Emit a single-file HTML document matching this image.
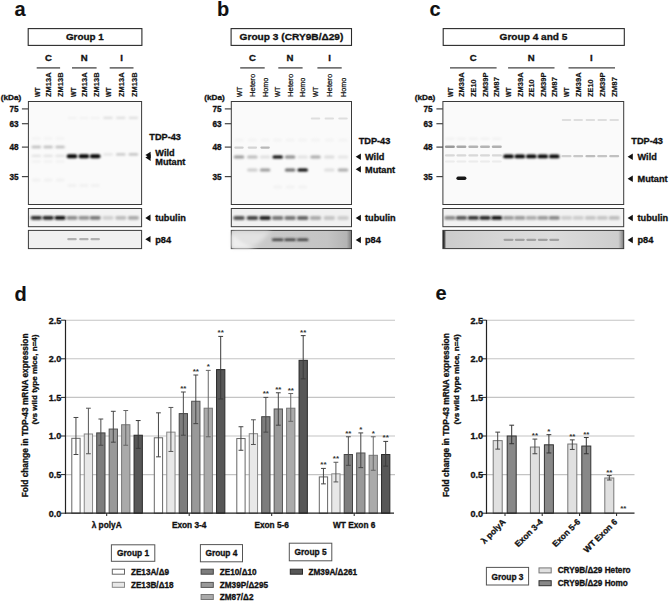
<!DOCTYPE html>
<html><head><meta charset="utf-8"><style>
html,body{margin:0;padding:0;background:#fff;}
svg{display:block;font-family:"Liberation Sans", sans-serif;}
text{stroke:#111;stroke-width:0.32px;}
</style></head><body>
<svg width="669" height="601" viewBox="0 0 669 601">
<defs><filter id="b1" x="-50%" y="-100%" width="200%" height="300%"><feGaussianBlur stdDeviation="0.1"/></filter><filter id="b2" x="-50%" y="-100%" width="200%" height="300%"><feGaussianBlur stdDeviation="0.2"/></filter><filter id="b3" x="-50%" y="-100%" width="200%" height="300%"><feGaussianBlur stdDeviation="0.3"/></filter><filter id="b4" x="-50%" y="-100%" width="200%" height="300%"><feGaussianBlur stdDeviation="0.4"/></filter><filter id="b5" x="-50%" y="-100%" width="200%" height="300%"><feGaussianBlur stdDeviation="0.5"/></filter><filter id="b6" x="-50%" y="-100%" width="200%" height="300%"><feGaussianBlur stdDeviation="0.6"/></filter><filter id="b7" x="-50%" y="-100%" width="200%" height="300%"><feGaussianBlur stdDeviation="0.7"/></filter><filter id="b8" x="-50%" y="-100%" width="200%" height="300%"><feGaussianBlur stdDeviation="0.8"/></filter><filter id="b9" x="-50%" y="-100%" width="200%" height="300%"><feGaussianBlur stdDeviation="0.9"/></filter><filter id="b10" x="-50%" y="-100%" width="200%" height="300%"><feGaussianBlur stdDeviation="1.0"/></filter><filter id="b11" x="-50%" y="-100%" width="200%" height="300%"><feGaussianBlur stdDeviation="1.1"/></filter><filter id="b12" x="-50%" y="-100%" width="200%" height="300%"><feGaussianBlur stdDeviation="1.2"/></filter><filter id="b13" x="-50%" y="-100%" width="200%" height="300%"><feGaussianBlur stdDeviation="1.3"/></filter><filter id="b14" x="-50%" y="-100%" width="200%" height="300%"><feGaussianBlur stdDeviation="1.4"/></filter><filter id="b15" x="-50%" y="-100%" width="200%" height="300%"><feGaussianBlur stdDeviation="1.5"/></filter><filter id="b16" x="-50%" y="-100%" width="200%" height="300%"><feGaussianBlur stdDeviation="1.6"/></filter><filter id="b17" x="-50%" y="-100%" width="200%" height="300%"><feGaussianBlur stdDeviation="1.7"/></filter><filter id="b18" x="-50%" y="-100%" width="200%" height="300%"><feGaussianBlur stdDeviation="1.8"/></filter><filter id="b19" x="-50%" y="-100%" width="200%" height="300%"><feGaussianBlur stdDeviation="1.9"/></filter><filter id="b20" x="-50%" y="-100%" width="200%" height="300%"><feGaussianBlur stdDeviation="2.0"/></filter></defs>
<rect width="669" height="601" fill="#fff"/>
<text x="14.50" y="15.60" font-size="20" font-weight="bold" text-anchor="start" fill="#111" style="stroke-width:0.1px">a</text>
<text x="217.00" y="16.00" font-size="20" font-weight="bold" text-anchor="start" fill="#111" style="stroke-width:0.1px">b</text>
<text x="429.60" y="15.50" font-size="20" font-weight="bold" text-anchor="start" fill="#111" style="stroke-width:0.1px">c</text>
<text x="14.50" y="300.50" font-size="20" font-weight="bold" text-anchor="start" fill="#111" style="stroke-width:0.1px">d</text>
<text x="435.50" y="300.20" font-size="20" font-weight="bold" text-anchor="start" fill="#111" style="stroke-width:0.1px">e</text>
<rect x="28.20" y="28.60" width="113.70" height="16.80" fill="#fff" stroke="#2a2a2a" stroke-width="1.1" />
<text x="84.80" y="40.20" font-size="9.8" font-weight="bold" text-anchor="middle" fill="#111" textLength="37.8" lengthAdjust="spacingAndGlyphs" >Group 1</text>
<text x="48.40" y="61.20" font-size="9.6" font-weight="bold" text-anchor="middle" fill="#111" >C</text>
<line x1="36.70" y1="67.90" x2="60.10" y2="67.90" stroke="#444" stroke-width="1.3" />
<text x="84.10" y="61.20" font-size="9.6" font-weight="bold" text-anchor="middle" fill="#111" >N</text>
<line x1="72.00" y1="67.90" x2="96.60" y2="67.90" stroke="#444" stroke-width="1.3" />
<text x="121.50" y="61.20" font-size="9.6" font-weight="bold" text-anchor="middle" fill="#111" >I</text>
<line x1="109.70" y1="67.90" x2="133.50" y2="67.90" stroke="#444" stroke-width="1.3" />
<text transform="translate(39.50,97.00) rotate(-90)" font-size="7.9" font-weight="bold" fill="#111" text-anchor="start" textLength="9.5" lengthAdjust="spacingAndGlyphs" style="stroke-width:0.2px">WT</text>
<text transform="translate(51.30,97.00) rotate(-90)" font-size="7.9" font-weight="bold" fill="#111" text-anchor="start" textLength="24.6" lengthAdjust="spacingAndGlyphs" style="stroke-width:0.2px">ZM13A</text>
<text transform="translate(63.00,97.00) rotate(-90)" font-size="7.9" font-weight="bold" fill="#111" text-anchor="start" textLength="24.6" lengthAdjust="spacingAndGlyphs" style="stroke-width:0.2px">ZM13B</text>
<text transform="translate(75.50,97.00) rotate(-90)" font-size="7.9" font-weight="bold" fill="#111" text-anchor="start" textLength="9.5" lengthAdjust="spacingAndGlyphs" style="stroke-width:0.2px">WT</text>
<text transform="translate(87.00,97.00) rotate(-90)" font-size="7.9" font-weight="bold" fill="#111" text-anchor="start" textLength="24.6" lengthAdjust="spacingAndGlyphs" style="stroke-width:0.2px">ZM13A</text>
<text transform="translate(98.70,97.00) rotate(-90)" font-size="7.9" font-weight="bold" fill="#111" text-anchor="start" textLength="24.6" lengthAdjust="spacingAndGlyphs" style="stroke-width:0.2px">ZM13B</text>
<text transform="translate(111.20,97.00) rotate(-90)" font-size="7.9" font-weight="bold" fill="#111" text-anchor="start" textLength="9.5" lengthAdjust="spacingAndGlyphs" style="stroke-width:0.2px">WT</text>
<text transform="translate(124.00,97.00) rotate(-90)" font-size="7.9" font-weight="bold" fill="#111" text-anchor="start" textLength="24.6" lengthAdjust="spacingAndGlyphs" style="stroke-width:0.2px">ZM13A</text>
<text transform="translate(136.70,97.00) rotate(-90)" font-size="7.9" font-weight="bold" fill="#111" text-anchor="start" textLength="24.6" lengthAdjust="spacingAndGlyphs" style="stroke-width:0.2px">ZM13B</text>
<rect x="28.40" y="101.50" width="113.20" height="103.00" fill="#fafafa" stroke="#3a3a3a" stroke-width="1.0" />
<rect x="28.40" y="208.50" width="113.20" height="18.20" fill="#f3f3f3" stroke="#3a3a3a" stroke-width="1.0" />
<rect x="28.40" y="230.40" width="113.20" height="18.20" fill="#f0f0f0" stroke="#3a3a3a" stroke-width="1.0" />
<text x="0.80" y="100.20" font-size="7.9" font-weight="bold" text-anchor="start" fill="#111" textLength="20.5" lengthAdjust="spacingAndGlyphs" >(kDa)</text>
<text x="18.60" y="111.80" font-size="8.2" font-weight="bold" text-anchor="end" fill="#111" >75</text>
<line x1="21.90" y1="108.90" x2="28.40" y2="108.90" stroke="#444" stroke-width="1.2" />
<text x="18.60" y="126.60" font-size="8.2" font-weight="bold" text-anchor="end" fill="#111" >63</text>
<line x1="21.90" y1="123.70" x2="28.40" y2="123.70" stroke="#444" stroke-width="1.2" />
<text x="18.60" y="150.00" font-size="8.2" font-weight="bold" text-anchor="end" fill="#111" >48</text>
<line x1="21.90" y1="147.10" x2="28.40" y2="147.10" stroke="#444" stroke-width="1.2" />
<text x="18.60" y="179.50" font-size="8.2" font-weight="bold" text-anchor="end" fill="#111" >35</text>
<line x1="21.90" y1="176.60" x2="28.40" y2="176.60" stroke="#444" stroke-width="1.2" />
<rect x="31.55" y="145.70" width="9.5" height="2.6" rx="1.30" fill="#bdbdbd" filter="url(#b8)"/>
<rect x="31.55" y="154.80" width="9.5" height="2.2" rx="1.10" fill="#e2e2e2" filter="url(#b8)"/>
<rect x="31.80" y="137.50" width="9" height="2" rx="1.00" fill="#f1f1f1" filter="url(#b8)"/>
<rect x="31.80" y="160.50" width="9" height="2" rx="1.00" fill="#efefef" filter="url(#b8)"/>
<rect x="31.80" y="178.50" width="9" height="3" rx="1.50" fill="#f1f1f1" filter="url(#b10)"/>
<rect x="43.35" y="145.70" width="9.5" height="2.6" rx="1.30" fill="#bdbdbd" filter="url(#b8)"/>
<rect x="43.35" y="154.80" width="9.5" height="2.2" rx="1.10" fill="#e2e2e2" filter="url(#b8)"/>
<rect x="43.60" y="137.50" width="9" height="2" rx="1.00" fill="#f1f1f1" filter="url(#b8)"/>
<rect x="43.60" y="160.50" width="9" height="2" rx="1.00" fill="#efefef" filter="url(#b8)"/>
<rect x="43.60" y="178.50" width="9" height="3" rx="1.50" fill="#f1f1f1" filter="url(#b10)"/>
<rect x="55.35" y="145.70" width="9.5" height="2.6" rx="1.30" fill="#bdbdbd" filter="url(#b8)"/>
<rect x="55.35" y="154.80" width="9.5" height="2.2" rx="1.10" fill="#e2e2e2" filter="url(#b8)"/>
<rect x="55.60" y="137.50" width="9" height="2" rx="1.00" fill="#f1f1f1" filter="url(#b8)"/>
<rect x="55.60" y="160.50" width="9" height="2" rx="1.00" fill="#efefef" filter="url(#b8)"/>
<rect x="55.60" y="178.50" width="9" height="3" rx="1.50" fill="#f1f1f1" filter="url(#b10)"/>
<rect x="66.70" y="154.20" width="10.6" height="4.0" rx="2.00" fill="#000" filter="url(#b8)"/>
<rect x="67.50" y="117.10" width="9" height="1.8" rx="0.90" fill="#f1f1f1" filter="url(#b8)"/>
<rect x="67.50" y="184.00" width="9" height="3" rx="1.50" fill="#f1f1f1" filter="url(#b10)"/>
<rect x="78.60" y="154.20" width="10.6" height="4.0" rx="2.00" fill="#000" filter="url(#b8)"/>
<rect x="79.40" y="117.10" width="9" height="1.8" rx="0.90" fill="#f1f1f1" filter="url(#b8)"/>
<rect x="79.40" y="184.00" width="9" height="3" rx="1.50" fill="#f1f1f1" filter="url(#b10)"/>
<rect x="89.90" y="154.20" width="10.6" height="4.0" rx="2.00" fill="#000" filter="url(#b8)"/>
<rect x="90.70" y="117.10" width="9" height="1.8" rx="0.90" fill="#f1f1f1" filter="url(#b8)"/>
<rect x="90.70" y="184.00" width="9" height="3" rx="1.50" fill="#f1f1f1" filter="url(#b10)"/>
<rect x="103.25" y="116.70" width="9.5" height="2.2" rx="1.10" fill="#dedede" filter="url(#b8)"/>
<rect x="103.25" y="153.20" width="9.5" height="2.4" rx="1.20" fill="#e4e4e4" filter="url(#b8)"/>
<rect x="116.05" y="116.70" width="9.5" height="2.2" rx="1.10" fill="#dedede" filter="url(#b8)"/>
<rect x="116.05" y="153.20" width="9.5" height="2.4" rx="1.20" fill="#c4c4c4" filter="url(#b8)"/>
<rect x="128.65" y="116.70" width="9.5" height="2.2" rx="1.10" fill="#dedede" filter="url(#b8)"/>
<rect x="128.65" y="153.20" width="9.5" height="2.4" rx="1.20" fill="#bcbcbc" filter="url(#b8)"/>
<rect x="30.70" y="215.90" width="11.2" height="3.8" rx="1.90" fill="#2a2a2a" filter="url(#b8)"/>
<rect x="42.50" y="215.90" width="11.2" height="3.8" rx="1.90" fill="#222" filter="url(#b8)"/>
<rect x="54.50" y="215.90" width="11.2" height="3.8" rx="1.90" fill="#111" filter="url(#b8)"/>
<rect x="66.40" y="215.90" width="11.2" height="3.8" rx="1.90" fill="#8a8a8a" filter="url(#b8)"/>
<rect x="78.30" y="215.90" width="11.2" height="3.8" rx="1.90" fill="#909090" filter="url(#b8)"/>
<rect x="89.60" y="215.90" width="11.2" height="3.8" rx="1.90" fill="#777" filter="url(#b8)"/>
<rect x="102.40" y="215.90" width="11.2" height="3.8" rx="1.90" fill="#cfcfcf" filter="url(#b8)"/>
<rect x="115.20" y="215.90" width="11.2" height="3.8" rx="1.90" fill="#bbbbbb" filter="url(#b8)"/>
<rect x="127.80" y="215.90" width="11.2" height="3.8" rx="1.90" fill="#a8a8a8" filter="url(#b8)"/>
<rect x="67.25" y="238.10" width="9.5" height="2.2" rx="1.10" fill="#b0b0b0" filter="url(#b7)"/>
<rect x="79.15" y="238.10" width="9.5" height="2.2" rx="1.10" fill="#b0b0b0" filter="url(#b7)"/>
<rect x="90.45" y="238.10" width="9.5" height="2.2" rx="1.10" fill="#b0b0b0" filter="url(#b7)"/>
<text x="149.30" y="139.50" font-size="9.2" font-weight="bold" text-anchor="start" fill="#111" >TDP-43</text>
<polygon points="145.40,155.00 150.60,151.70 150.60,158.30" fill="#111"/>
<polygon points="145.40,157.60 150.60,154.30 150.60,160.90" fill="#111"/>
<text x="155.30" y="155.90" font-size="9.2" font-weight="bold" text-anchor="start" fill="#111" >Wild</text>
<text x="155.30" y="164.90" font-size="9.2" font-weight="bold" text-anchor="start" fill="#111" >Mutant</text>
<polygon points="145.30,217.90 150.50,214.60 150.50,221.20" fill="#111"/>
<text x="155.20" y="221.20" font-size="9.2" font-weight="bold" text-anchor="start" fill="#111" >tubulin</text>
<polygon points="145.30,239.30 150.50,236.00 150.50,242.60" fill="#111"/>
<text x="155.20" y="242.60" font-size="9.2" font-weight="bold" text-anchor="start" fill="#111" >p84</text>
<rect x="231.10" y="28.60" width="120.40" height="16.80" fill="#fff" stroke="#2a2a2a" stroke-width="1.1" />
<text x="291.50" y="40.20" font-size="9.8" font-weight="bold" text-anchor="middle" fill="#111" textLength="103.8" lengthAdjust="spacingAndGlyphs" >Group 3 (CRY9B/&#916;29)</text>
<text x="252.50" y="61.20" font-size="9.6" font-weight="bold" text-anchor="middle" fill="#111" >C</text>
<line x1="240.20" y1="67.90" x2="264.70" y2="67.90" stroke="#444" stroke-width="1.3" />
<text x="289.90" y="61.20" font-size="9.6" font-weight="bold" text-anchor="middle" fill="#111" >N</text>
<line x1="278.30" y1="67.90" x2="302.60" y2="67.90" stroke="#444" stroke-width="1.3" />
<text x="329.70" y="61.20" font-size="9.6" font-weight="bold" text-anchor="middle" fill="#111" >I</text>
<line x1="317.40" y1="67.90" x2="341.70" y2="67.90" stroke="#444" stroke-width="1.3" />
<text transform="translate(241.60,97.00) rotate(-90)" font-size="7.5" font-weight="normal" fill="#111" text-anchor="start" textLength="10.2" lengthAdjust="spacingAndGlyphs" style="stroke-width:0.25px">WT</text>
<text transform="translate(255.00,97.00) rotate(-90)" font-size="7.5" font-weight="normal" fill="#111" text-anchor="start" textLength="23.2" lengthAdjust="spacingAndGlyphs" style="stroke-width:0.25px">Hetero</text>
<text transform="translate(267.70,97.00) rotate(-90)" font-size="7.5" font-weight="normal" fill="#111" text-anchor="start" textLength="19.4" lengthAdjust="spacingAndGlyphs" style="stroke-width:0.25px">Homo</text>
<text transform="translate(280.30,97.00) rotate(-90)" font-size="7.5" font-weight="normal" fill="#111" text-anchor="start" textLength="10.2" lengthAdjust="spacingAndGlyphs" style="stroke-width:0.25px">WT</text>
<text transform="translate(292.70,97.00) rotate(-90)" font-size="7.5" font-weight="normal" fill="#111" text-anchor="start" textLength="23.2" lengthAdjust="spacingAndGlyphs" style="stroke-width:0.25px">Hetero</text>
<text transform="translate(305.30,97.00) rotate(-90)" font-size="7.5" font-weight="normal" fill="#111" text-anchor="start" textLength="19.4" lengthAdjust="spacingAndGlyphs" style="stroke-width:0.25px">Homo</text>
<text transform="translate(318.10,97.00) rotate(-90)" font-size="7.5" font-weight="normal" fill="#111" text-anchor="start" textLength="10.2" lengthAdjust="spacingAndGlyphs" style="stroke-width:0.25px">WT</text>
<text transform="translate(331.90,97.00) rotate(-90)" font-size="7.5" font-weight="normal" fill="#111" text-anchor="start" textLength="23.2" lengthAdjust="spacingAndGlyphs" style="stroke-width:0.25px">Hetero</text>
<text transform="translate(345.60,97.00) rotate(-90)" font-size="7.5" font-weight="normal" fill="#111" text-anchor="start" textLength="19.4" lengthAdjust="spacingAndGlyphs" style="stroke-width:0.25px">Homo</text>
<defs><linearGradient id="gb" x1="0" y1="0" x2="1" y2="0"><stop offset="0" stop-color="#d0d0d0"/><stop offset="0.35" stop-color="#c8c8c8"/><stop offset="0.8" stop-color="#c4c4c4"/><stop offset="0.96" stop-color="#b4b4b4"/><stop offset="0.99" stop-color="#8a8a8a"/><stop offset="1" stop-color="#666"/></linearGradient><linearGradient id="gc" x1="0" y1="0" x2="1" y2="0"><stop offset="0" stop-color="#111"/><stop offset="0.008" stop-color="#444"/><stop offset="0.018" stop-color="#cccccc"/><stop offset="0.3" stop-color="#d6d6d6"/><stop offset="0.6" stop-color="#dcdcdc"/><stop offset="0.97" stop-color="#cdcdcd"/><stop offset="0.99" stop-color="#9a9a9a"/><stop offset="1" stop-color="#777"/></linearGradient></defs>
<rect x="231.30" y="101.50" width="120.20" height="103.00" fill="#fafafa" stroke="#3a3a3a" stroke-width="1.0" />
<rect x="231.30" y="208.50" width="120.20" height="18.20" fill="#f1f1f1" stroke="#3a3a3a" stroke-width="1.0" />
<rect x="231.30" y="230.40" width="120.20" height="18.20" fill="url(#gb)" stroke="#3a3a3a" stroke-width="1.0" />
<path d="M232.3,231.5 L271,231.5 C264,239 257,245 249,247.8 L232.3,247.8 Z" fill="#e2e2e2" filter="url(#b20)"/>
<path d="M232.3,234 C243.3,246 253.3,247.5 261.3,247.8 L232.3,247.8 Z" fill="#eeeeee" filter="url(#b15)"/>
<text x="204.30" y="100.20" font-size="7.9" font-weight="bold" text-anchor="start" fill="#111" textLength="20.5" lengthAdjust="spacingAndGlyphs" >(kDa)</text>
<text x="221.60" y="111.80" font-size="8.2" font-weight="bold" text-anchor="end" fill="#111" >75</text>
<line x1="224.80" y1="108.90" x2="231.30" y2="108.90" stroke="#444" stroke-width="1.2" />
<text x="221.60" y="126.60" font-size="8.2" font-weight="bold" text-anchor="end" fill="#111" >63</text>
<line x1="224.80" y1="123.70" x2="231.30" y2="123.70" stroke="#444" stroke-width="1.2" />
<text x="221.60" y="150.00" font-size="8.2" font-weight="bold" text-anchor="end" fill="#111" >48</text>
<line x1="224.80" y1="147.10" x2="231.30" y2="147.10" stroke="#444" stroke-width="1.2" />
<text x="221.60" y="179.50" font-size="8.2" font-weight="bold" text-anchor="end" fill="#111" >35</text>
<line x1="224.80" y1="176.60" x2="231.30" y2="176.60" stroke="#444" stroke-width="1.2" />
<rect x="233.75" y="155.40" width="10.5" height="3.0" rx="1.50" fill="#9a9a9a" filter="url(#b8)"/>
<rect x="234.50" y="138.50" width="9" height="3" rx="1.50" fill="#f3f3f3" filter="url(#b10)"/>
<rect x="247.15" y="155.40" width="10.5" height="3.0" rx="1.50" fill="#bbbbbb" filter="url(#b8)"/>
<rect x="247.15" y="168.50" width="10.5" height="3.0" rx="1.50" fill="#cccccc" filter="url(#b8)"/>
<rect x="247.90" y="138.50" width="9" height="3" rx="1.50" fill="#f3f3f3" filter="url(#b10)"/>
<rect x="259.85" y="155.40" width="10.5" height="3.0" rx="1.50" fill="#e0e0e0" filter="url(#b8)"/>
<rect x="259.85" y="168.50" width="10.5" height="3.0" rx="1.50" fill="#9a9a9a" filter="url(#b8)"/>
<rect x="260.60" y="138.50" width="9" height="3" rx="1.50" fill="#f3f3f3" filter="url(#b10)"/>
<rect x="272.45" y="155.40" width="10.5" height="3.0" rx="1.50" fill="#000" filter="url(#b8)"/>
<rect x="273.20" y="138.50" width="9" height="3" rx="1.50" fill="#f3f3f3" filter="url(#b10)"/>
<rect x="284.85" y="155.40" width="10.5" height="3.0" rx="1.50" fill="#8a8a8a" filter="url(#b8)"/>
<rect x="284.85" y="168.50" width="10.5" height="3.0" rx="1.50" fill="#6a6a6a" filter="url(#b8)"/>
<rect x="285.60" y="138.50" width="9" height="3" rx="1.50" fill="#f3f3f3" filter="url(#b10)"/>
<rect x="297.45" y="155.40" width="10.5" height="3.0" rx="1.50" fill="#e2e2e2" filter="url(#b8)"/>
<rect x="297.45" y="168.50" width="10.5" height="3.0" rx="1.50" fill="#000" filter="url(#b8)"/>
<rect x="298.20" y="138.50" width="9" height="3" rx="1.50" fill="#f3f3f3" filter="url(#b10)"/>
<rect x="310.25" y="155.40" width="10.5" height="3.0" rx="1.50" fill="#aaaaaa" filter="url(#b8)"/>
<rect x="311.00" y="138.50" width="9" height="3" rx="1.50" fill="#f3f3f3" filter="url(#b10)"/>
<rect x="324.05" y="155.40" width="10.5" height="3.0" rx="1.50" fill="#dcdcdc" filter="url(#b8)"/>
<rect x="324.05" y="168.50" width="10.5" height="3.0" rx="1.50" fill="#dedede" filter="url(#b8)"/>
<rect x="324.80" y="138.50" width="9" height="3" rx="1.50" fill="#f3f3f3" filter="url(#b10)"/>
<rect x="337.75" y="155.40" width="10.5" height="3.0" rx="1.50" fill="#e6e6e6" filter="url(#b8)"/>
<rect x="337.75" y="168.50" width="10.5" height="3.0" rx="1.50" fill="#aaaaaa" filter="url(#b8)"/>
<rect x="338.50" y="138.50" width="9" height="3" rx="1.50" fill="#f3f3f3" filter="url(#b10)"/>
<rect x="234.25" y="146.50" width="9.5" height="2.2" rx="1.10" fill="#cfcfcf" filter="url(#b7)"/>
<rect x="247.65" y="146.50" width="9.5" height="2.2" rx="1.10" fill="#d4d4d4" filter="url(#b7)"/>
<rect x="260.35" y="146.50" width="9.5" height="2.2" rx="1.10" fill="#b8b8b8" filter="url(#b7)"/>
<rect x="310.75" y="117.40" width="9.5" height="2.2" rx="1.10" fill="#dedede" filter="url(#b7)"/>
<rect x="324.55" y="117.40" width="9.5" height="2.2" rx="1.10" fill="#dedede" filter="url(#b7)"/>
<rect x="338.25" y="117.40" width="9.5" height="2.2" rx="1.10" fill="#dedede" filter="url(#b7)"/>
<rect x="273.20" y="185.50" width="9" height="3" rx="1.50" fill="#f2f2f2" filter="url(#b10)"/>
<rect x="285.60" y="185.50" width="9" height="3" rx="1.50" fill="#f2f2f2" filter="url(#b10)"/>
<rect x="298.20" y="185.50" width="9" height="3" rx="1.50" fill="#f2f2f2" filter="url(#b10)"/>
<rect x="233.25" y="216.05" width="11.5" height="3.9" rx="1.95" fill="#555" filter="url(#b8)"/>
<rect x="246.65" y="216.05" width="11.5" height="3.9" rx="1.95" fill="#444" filter="url(#b8)"/>
<rect x="259.35" y="216.05" width="11.5" height="3.9" rx="1.95" fill="#222" filter="url(#b8)"/>
<rect x="271.95" y="216.05" width="11.5" height="3.9" rx="1.95" fill="#777" filter="url(#b8)"/>
<rect x="284.35" y="216.05" width="11.5" height="3.9" rx="1.95" fill="#777" filter="url(#b8)"/>
<rect x="296.95" y="216.05" width="11.5" height="3.9" rx="1.95" fill="#666" filter="url(#b8)"/>
<rect x="309.75" y="216.05" width="11.5" height="3.9" rx="1.95" fill="#aaa" filter="url(#b8)"/>
<rect x="323.55" y="216.05" width="11.5" height="3.9" rx="1.95" fill="#c4c4c4" filter="url(#b8)"/>
<rect x="337.25" y="216.05" width="11.5" height="3.9" rx="1.95" fill="#cccccc" filter="url(#b8)"/>
<rect x="271.95" y="238.50" width="11.5" height="2.6" rx="1.30" fill="#3a3a3a" filter="url(#b8)"/>
<rect x="284.35" y="238.50" width="11.5" height="2.6" rx="1.30" fill="#3a3a3a" filter="url(#b8)"/>
<rect x="296.95" y="238.50" width="11.5" height="2.6" rx="1.30" fill="#3a3a3a" filter="url(#b8)"/>
<text x="358.70" y="143.80" font-size="9.2" font-weight="bold" text-anchor="start" fill="#111" >TDP-43</text>
<polygon points="355.70,156.70 360.90,153.40 360.90,160.00" fill="#111"/>
<text x="365.00" y="160.00" font-size="9.2" font-weight="bold" text-anchor="start" fill="#111" >Wild</text>
<polygon points="355.70,169.20 360.90,165.90 360.90,172.50" fill="#111"/>
<text x="365.00" y="172.50" font-size="9.2" font-weight="bold" text-anchor="start" fill="#111" >Mutant</text>
<polygon points="355.70,218.00 360.90,214.70 360.90,221.30" fill="#111"/>
<text x="365.00" y="221.30" font-size="9.2" font-weight="bold" text-anchor="start" fill="#111" >tubulin</text>
<polygon points="355.70,240.00 360.90,236.70 360.90,243.30" fill="#111"/>
<text x="365.00" y="243.30" font-size="9.2" font-weight="bold" text-anchor="start" fill="#111" >p84</text>
<rect x="443.20" y="28.60" width="181.10" height="16.80" fill="#fff" stroke="#2a2a2a" stroke-width="1.1" />
<text x="533.50" y="40.20" font-size="9.8" font-weight="bold" text-anchor="middle" fill="#111" textLength="67.8" lengthAdjust="spacingAndGlyphs" >Group 4 and 5</text>
<text x="473.10" y="61.20" font-size="9.6" font-weight="bold" text-anchor="middle" fill="#111" >C</text>
<line x1="450.00" y1="67.90" x2="496.60" y2="67.90" stroke="#444" stroke-width="1.3" />
<text x="531.20" y="61.20" font-size="9.6" font-weight="bold" text-anchor="middle" fill="#111" >N</text>
<line x1="508.10" y1="67.90" x2="554.50" y2="67.90" stroke="#444" stroke-width="1.3" />
<text x="591.30" y="61.20" font-size="9.6" font-weight="bold" text-anchor="middle" fill="#111" >I</text>
<line x1="568.50" y1="67.90" x2="615.00" y2="67.90" stroke="#444" stroke-width="1.3" />
<text transform="translate(452.90,97.00) rotate(-90)" font-size="7.9" font-weight="bold" fill="#111" text-anchor="start" textLength="9.5" lengthAdjust="spacingAndGlyphs" style="stroke-width:0.2px">WT</text>
<text transform="translate(464.30,97.00) rotate(-90)" font-size="7.9" font-weight="bold" fill="#111" text-anchor="start" textLength="24.6" lengthAdjust="spacingAndGlyphs" style="stroke-width:0.2px">ZM39A</text>
<text transform="translate(476.00,97.00) rotate(-90)" font-size="7.9" font-weight="bold" fill="#111" text-anchor="start" textLength="17.6" lengthAdjust="spacingAndGlyphs" style="stroke-width:0.2px">ZE10</text>
<text transform="translate(487.70,97.00) rotate(-90)" font-size="7.9" font-weight="bold" fill="#111" text-anchor="start" textLength="24.6" lengthAdjust="spacingAndGlyphs" style="stroke-width:0.2px">ZM39P</text>
<text transform="translate(499.40,97.00) rotate(-90)" font-size="7.9" font-weight="bold" fill="#111" text-anchor="start" textLength="20" lengthAdjust="spacingAndGlyphs" style="stroke-width:0.2px">ZM87</text>
<text transform="translate(511.30,97.00) rotate(-90)" font-size="7.9" font-weight="bold" fill="#111" text-anchor="start" textLength="9.5" lengthAdjust="spacingAndGlyphs" style="stroke-width:0.2px">WT</text>
<text transform="translate(522.90,97.00) rotate(-90)" font-size="7.9" font-weight="bold" fill="#111" text-anchor="start" textLength="24.6" lengthAdjust="spacingAndGlyphs" style="stroke-width:0.2px">ZM39A</text>
<text transform="translate(534.20,97.00) rotate(-90)" font-size="7.9" font-weight="bold" fill="#111" text-anchor="start" textLength="17.6" lengthAdjust="spacingAndGlyphs" style="stroke-width:0.2px">ZE10</text>
<text transform="translate(545.70,97.00) rotate(-90)" font-size="7.9" font-weight="bold" fill="#111" text-anchor="start" textLength="24.6" lengthAdjust="spacingAndGlyphs" style="stroke-width:0.2px">ZM39P</text>
<text transform="translate(557.20,97.00) rotate(-90)" font-size="7.9" font-weight="bold" fill="#111" text-anchor="start" textLength="20" lengthAdjust="spacingAndGlyphs" style="stroke-width:0.2px">ZM87</text>
<text transform="translate(569.40,97.00) rotate(-90)" font-size="7.9" font-weight="bold" fill="#111" text-anchor="start" textLength="9.5" lengthAdjust="spacingAndGlyphs" style="stroke-width:0.2px">WT</text>
<text transform="translate(581.10,97.00) rotate(-90)" font-size="7.9" font-weight="bold" fill="#111" text-anchor="start" textLength="24.6" lengthAdjust="spacingAndGlyphs" style="stroke-width:0.2px">ZM39A</text>
<text transform="translate(593.30,97.00) rotate(-90)" font-size="7.9" font-weight="bold" fill="#111" text-anchor="start" textLength="17.6" lengthAdjust="spacingAndGlyphs" style="stroke-width:0.2px">ZE10</text>
<text transform="translate(605.10,97.00) rotate(-90)" font-size="7.9" font-weight="bold" fill="#111" text-anchor="start" textLength="24.6" lengthAdjust="spacingAndGlyphs" style="stroke-width:0.2px">ZM39P</text>
<text transform="translate(617.10,97.00) rotate(-90)" font-size="7.9" font-weight="bold" fill="#111" text-anchor="start" textLength="20" lengthAdjust="spacingAndGlyphs" style="stroke-width:0.2px">ZM87</text>
<rect x="442.90" y="101.50" width="180.80" height="103.00" fill="#fafafa" stroke="#3a3a3a" stroke-width="1.0" />
<rect x="442.90" y="208.50" width="180.80" height="18.20" fill="#f2f2f2" stroke="#3a3a3a" stroke-width="1.0" />
<rect x="442.90" y="230.40" width="180.80" height="18.20" fill="url(#gc)" stroke="#3a3a3a" stroke-width="1.0" />
<text x="414.70" y="100.20" font-size="7.9" font-weight="bold" text-anchor="start" fill="#111" textLength="20.5" lengthAdjust="spacingAndGlyphs" >(kDa)</text>
<text x="432.60" y="111.80" font-size="8.2" font-weight="bold" text-anchor="end" fill="#111" >75</text>
<line x1="436.40" y1="108.90" x2="442.90" y2="108.90" stroke="#444" stroke-width="1.2" />
<text x="432.60" y="126.60" font-size="8.2" font-weight="bold" text-anchor="end" fill="#111" >63</text>
<line x1="436.40" y1="123.70" x2="442.90" y2="123.70" stroke="#444" stroke-width="1.2" />
<text x="432.60" y="150.00" font-size="8.2" font-weight="bold" text-anchor="end" fill="#111" >48</text>
<line x1="436.40" y1="147.10" x2="442.90" y2="147.10" stroke="#444" stroke-width="1.2" />
<text x="432.60" y="179.50" font-size="8.2" font-weight="bold" text-anchor="end" fill="#111" >35</text>
<line x1="436.40" y1="176.60" x2="442.90" y2="176.60" stroke="#444" stroke-width="1.2" />
<rect x="444.90" y="145.50" width="10" height="2.6" rx="1.30" fill="#9a9a9a" filter="url(#b7)"/>
<rect x="444.90" y="154.30" width="10" height="2.2" rx="1.10" fill="#d8d8d8" filter="url(#b7)"/>
<rect x="444.90" y="160.60" width="10" height="2" rx="1.00" fill="#ececec" filter="url(#b7)"/>
<rect x="445.15" y="137.70" width="9.5" height="2" rx="1.00" fill="#f0f0f0" filter="url(#b8)"/>
<rect x="456.40" y="145.50" width="10" height="2.6" rx="1.30" fill="#a8a8a8" filter="url(#b7)"/>
<rect x="456.40" y="154.30" width="10" height="2.2" rx="1.10" fill="#d8d8d8" filter="url(#b7)"/>
<rect x="456.40" y="160.60" width="10" height="2" rx="1.00" fill="#ececec" filter="url(#b7)"/>
<rect x="456.65" y="137.70" width="9.5" height="2" rx="1.00" fill="#f0f0f0" filter="url(#b8)"/>
<rect x="468.30" y="145.50" width="10" height="2.6" rx="1.30" fill="#b4b4b4" filter="url(#b7)"/>
<rect x="468.30" y="154.30" width="10" height="2.2" rx="1.10" fill="#d8d8d8" filter="url(#b7)"/>
<rect x="468.30" y="160.60" width="10" height="2" rx="1.00" fill="#ececec" filter="url(#b7)"/>
<rect x="468.55" y="137.70" width="9.5" height="2" rx="1.00" fill="#f0f0f0" filter="url(#b8)"/>
<rect x="480.00" y="145.50" width="10" height="2.6" rx="1.30" fill="#b4b4b4" filter="url(#b7)"/>
<rect x="480.00" y="154.30" width="10" height="2.2" rx="1.10" fill="#d8d8d8" filter="url(#b7)"/>
<rect x="480.00" y="160.60" width="10" height="2" rx="1.00" fill="#ececec" filter="url(#b7)"/>
<rect x="480.25" y="137.70" width="9.5" height="2" rx="1.00" fill="#f0f0f0" filter="url(#b8)"/>
<rect x="491.80" y="145.50" width="10" height="2.6" rx="1.30" fill="#b0b0b0" filter="url(#b7)"/>
<rect x="491.80" y="154.30" width="10" height="2.2" rx="1.10" fill="#d8d8d8" filter="url(#b7)"/>
<rect x="491.80" y="160.60" width="10" height="2" rx="1.00" fill="#ececec" filter="url(#b7)"/>
<rect x="492.05" y="137.70" width="9.5" height="2" rx="1.00" fill="#f0f0f0" filter="url(#b8)"/>
<rect x="503.20" y="154.45" width="10.6" height="3.9" rx="1.95" fill="#000" filter="url(#b8)"/>
<rect x="514.50" y="154.45" width="10.6" height="3.9" rx="1.95" fill="#000" filter="url(#b8)"/>
<rect x="526.00" y="154.45" width="10.6" height="3.9" rx="1.95" fill="#000" filter="url(#b8)"/>
<rect x="537.50" y="154.45" width="10.6" height="3.9" rx="1.95" fill="#000" filter="url(#b8)"/>
<rect x="549.00" y="154.45" width="10.6" height="3.9" rx="1.95" fill="#000" filter="url(#b8)"/>
<rect x="561.50" y="155.10" width="10" height="2.2" rx="1.10" fill="#cfcfcf" filter="url(#b7)"/>
<rect x="561.75" y="119.00" width="9.5" height="2" rx="1.00" fill="#dedede" filter="url(#b7)"/>
<rect x="573.20" y="155.10" width="10" height="2.2" rx="1.10" fill="#c8c8c8" filter="url(#b7)"/>
<rect x="573.45" y="119.00" width="9.5" height="2" rx="1.00" fill="#dedede" filter="url(#b7)"/>
<rect x="585.40" y="155.10" width="10" height="2.2" rx="1.10" fill="#bdbdbd" filter="url(#b7)"/>
<rect x="585.65" y="119.00" width="9.5" height="2" rx="1.00" fill="#dedede" filter="url(#b7)"/>
<rect x="597.20" y="155.10" width="10" height="2.2" rx="1.10" fill="#c4c4c4" filter="url(#b7)"/>
<rect x="597.45" y="119.00" width="9.5" height="2" rx="1.00" fill="#dedede" filter="url(#b7)"/>
<rect x="609.20" y="155.10" width="10" height="2.2" rx="1.10" fill="#c0c0c0" filter="url(#b7)"/>
<rect x="609.45" y="119.00" width="9.5" height="2" rx="1.00" fill="#dedede" filter="url(#b7)"/>
<rect x="456.40" y="176.50" width="10" height="3.4" rx="1.70" fill="#151515" filter="url(#b7)"/>
<rect x="444.30" y="215.95" width="11.2" height="3.9" rx="1.95" fill="#888" filter="url(#b8)"/>
<rect x="455.80" y="215.95" width="11.2" height="3.9" rx="1.95" fill="#555" filter="url(#b8)"/>
<rect x="467.70" y="215.95" width="11.2" height="3.9" rx="1.95" fill="#333" filter="url(#b8)"/>
<rect x="479.40" y="215.95" width="11.2" height="3.9" rx="1.95" fill="#222" filter="url(#b8)"/>
<rect x="491.20" y="215.95" width="11.2" height="3.9" rx="1.95" fill="#111" filter="url(#b8)"/>
<rect x="502.90" y="215.95" width="11.2" height="3.9" rx="1.95" fill="#999" filter="url(#b8)"/>
<rect x="514.20" y="215.95" width="11.2" height="3.9" rx="1.95" fill="#999" filter="url(#b8)"/>
<rect x="525.70" y="215.95" width="11.2" height="3.9" rx="1.95" fill="#aaa" filter="url(#b8)"/>
<rect x="537.20" y="215.95" width="11.2" height="3.9" rx="1.95" fill="#999" filter="url(#b8)"/>
<rect x="548.70" y="215.95" width="11.2" height="3.9" rx="1.95" fill="#888" filter="url(#b8)"/>
<rect x="560.90" y="215.95" width="11.2" height="3.9" rx="1.95" fill="#ccc" filter="url(#b8)"/>
<rect x="572.60" y="215.95" width="11.2" height="3.9" rx="1.95" fill="#ccc" filter="url(#b8)"/>
<rect x="584.80" y="215.95" width="11.2" height="3.9" rx="1.95" fill="#c4c4c4" filter="url(#b8)"/>
<rect x="596.60" y="215.95" width="11.2" height="3.9" rx="1.95" fill="#c4c4c4" filter="url(#b8)"/>
<rect x="608.60" y="215.95" width="11.2" height="3.9" rx="1.95" fill="#bbb" filter="url(#b8)"/>
<rect x="503.50" y="238.70" width="10" height="2.2" rx="1.10" fill="#a0a0a0" filter="url(#b7)"/>
<rect x="514.80" y="238.70" width="10" height="2.2" rx="1.10" fill="#a0a0a0" filter="url(#b7)"/>
<rect x="526.30" y="238.70" width="10" height="2.2" rx="1.10" fill="#a0a0a0" filter="url(#b7)"/>
<rect x="537.80" y="238.70" width="10" height="2.2" rx="1.10" fill="#a0a0a0" filter="url(#b7)"/>
<rect x="549.30" y="238.70" width="10" height="2.2" rx="1.10" fill="#a0a0a0" filter="url(#b7)"/>
<text x="631.30" y="143.80" font-size="9.2" font-weight="bold" text-anchor="start" fill="#111" >TDP-43</text>
<polygon points="627.60,156.80 632.80,153.50 632.80,160.10" fill="#111"/>
<text x="637.50" y="160.10" font-size="9.2" font-weight="bold" text-anchor="start" fill="#111" >Wild</text>
<polygon points="627.60,178.80 632.80,175.50 632.80,182.10" fill="#111"/>
<text x="637.50" y="182.10" font-size="9.2" font-weight="bold" text-anchor="start" fill="#111" >Mutant</text>
<polygon points="627.60,218.00 632.80,214.70 632.80,221.30" fill="#111"/>
<text x="637.50" y="221.30" font-size="9.2" font-weight="bold" text-anchor="start" fill="#111" >tubulin</text>
<polygon points="627.60,240.00 632.80,236.70 632.80,243.30" fill="#111"/>
<text x="637.50" y="243.30" font-size="9.2" font-weight="bold" text-anchor="start" fill="#111" >p84</text>
<line x1="65.50" y1="474.60" x2="395.00" y2="474.60" stroke="#c4c4c4" stroke-width="1.1" />
<line x1="65.50" y1="436.00" x2="395.00" y2="436.00" stroke="#c4c4c4" stroke-width="1.1" />
<line x1="65.50" y1="397.40" x2="395.00" y2="397.40" stroke="#c4c4c4" stroke-width="1.1" />
<line x1="65.50" y1="358.80" x2="395.00" y2="358.80" stroke="#c4c4c4" stroke-width="1.1" />
<line x1="65.50" y1="320.20" x2="395.00" y2="320.20" stroke="#c4c4c4" stroke-width="1.1" />
<rect x="71.80" y="438.32" width="8.30" height="74.88" fill="#ffffff" stroke="#666" stroke-width="1" />
<line x1="75.95" y1="417.47" x2="75.95" y2="454.53" stroke="#444" stroke-width="1" />
<line x1="73.55" y1="417.47" x2="78.35" y2="417.47" stroke="#444" stroke-width="1" />
<line x1="73.55" y1="454.53" x2="78.35" y2="454.53" stroke="#444" stroke-width="1" />
<rect x="84.25" y="433.99" width="8.30" height="79.21" fill="#e8e8e8" stroke="#888" stroke-width="1" />
<line x1="88.40" y1="408.21" x2="88.40" y2="453.76" stroke="#555" stroke-width="1" />
<line x1="86.00" y1="408.21" x2="90.80" y2="408.21" stroke="#555" stroke-width="1" />
<line x1="86.00" y1="453.76" x2="90.80" y2="453.76" stroke="#555" stroke-width="1" />
<rect x="96.70" y="432.91" width="8.30" height="80.29" fill="#7d7d7d" stroke="#444" stroke-width="1" />
<line x1="100.85" y1="419.02" x2="100.85" y2="445.26" stroke="#4a4a4a" stroke-width="1" />
<line x1="98.45" y1="419.02" x2="103.25" y2="419.02" stroke="#4a4a4a" stroke-width="1" />
<line x1="98.45" y1="445.26" x2="103.25" y2="445.26" stroke="#4a4a4a" stroke-width="1" />
<rect x="109.15" y="429.05" width="8.30" height="84.15" fill="#999999" stroke="#555" stroke-width="1" />
<line x1="113.30" y1="411.30" x2="113.30" y2="442.18" stroke="#444" stroke-width="1" />
<line x1="110.90" y1="411.30" x2="115.70" y2="411.30" stroke="#444" stroke-width="1" />
<line x1="110.90" y1="442.18" x2="115.70" y2="442.18" stroke="#444" stroke-width="1" />
<rect x="121.60" y="424.73" width="8.30" height="88.47" fill="#aaaaaa" stroke="#777" stroke-width="1" />
<line x1="125.75" y1="410.52" x2="125.75" y2="445.26" stroke="#666" stroke-width="1" />
<line x1="123.35" y1="410.52" x2="128.15" y2="410.52" stroke="#666" stroke-width="1" />
<line x1="123.35" y1="445.26" x2="128.15" y2="445.26" stroke="#666" stroke-width="1" />
<rect x="134.05" y="435.23" width="8.30" height="77.97" fill="#575757" stroke="#2a2a2a" stroke-width="1" />
<line x1="138.20" y1="420.56" x2="138.20" y2="448.35" stroke="#3a3a3a" stroke-width="1" />
<line x1="135.80" y1="420.56" x2="140.60" y2="420.56" stroke="#3a3a3a" stroke-width="1" />
<line x1="135.80" y1="448.35" x2="140.60" y2="448.35" stroke="#3a3a3a" stroke-width="1" />
<rect x="154.30" y="437.78" width="8.30" height="75.42" fill="#ffffff" stroke="#666" stroke-width="1" />
<line x1="158.45" y1="412.84" x2="158.45" y2="456.84" stroke="#444" stroke-width="1" />
<line x1="156.05" y1="412.84" x2="160.85" y2="412.84" stroke="#444" stroke-width="1" />
<line x1="156.05" y1="456.84" x2="160.85" y2="456.84" stroke="#444" stroke-width="1" />
<rect x="166.75" y="432.14" width="8.30" height="81.06" fill="#e8e8e8" stroke="#888" stroke-width="1" />
<line x1="170.90" y1="407.44" x2="170.90" y2="451.44" stroke="#555" stroke-width="1" />
<line x1="168.50" y1="407.44" x2="173.30" y2="407.44" stroke="#555" stroke-width="1" />
<line x1="168.50" y1="451.44" x2="173.30" y2="451.44" stroke="#555" stroke-width="1" />
<rect x="179.20" y="413.61" width="8.30" height="99.59" fill="#7d7d7d" stroke="#444" stroke-width="1" />
<line x1="183.35" y1="392.00" x2="183.35" y2="435.23" stroke="#4a4a4a" stroke-width="1" />
<line x1="180.95" y1="392.00" x2="185.75" y2="392.00" stroke="#4a4a4a" stroke-width="1" />
<line x1="180.95" y1="435.23" x2="185.75" y2="435.23" stroke="#4a4a4a" stroke-width="1" />
<text x="183.35" y="391.00" font-size="8" font-weight="bold" text-anchor="middle" fill="#333" style="stroke:none">**</text>
<rect x="191.65" y="401.26" width="8.30" height="111.94" fill="#999999" stroke="#555" stroke-width="1" />
<line x1="195.80" y1="375.01" x2="195.80" y2="423.65" stroke="#444" stroke-width="1" />
<line x1="193.40" y1="375.01" x2="198.20" y2="375.01" stroke="#444" stroke-width="1" />
<line x1="193.40" y1="423.65" x2="198.20" y2="423.65" stroke="#444" stroke-width="1" />
<text x="195.80" y="374.01" font-size="8" font-weight="bold" text-anchor="middle" fill="#333" style="stroke:none">**</text>
<rect x="204.10" y="408.21" width="8.30" height="104.99" fill="#aaaaaa" stroke="#777" stroke-width="1" />
<line x1="208.25" y1="370.38" x2="208.25" y2="436.77" stroke="#666" stroke-width="1" />
<line x1="205.85" y1="370.38" x2="210.65" y2="370.38" stroke="#666" stroke-width="1" />
<line x1="205.85" y1="436.77" x2="210.65" y2="436.77" stroke="#666" stroke-width="1" />
<text x="208.25" y="369.38" font-size="8" font-weight="bold" text-anchor="middle" fill="#333" style="stroke:none">*</text>
<rect x="216.55" y="369.61" width="8.30" height="143.59" fill="#575757" stroke="#2a2a2a" stroke-width="1" />
<line x1="220.70" y1="336.41" x2="220.70" y2="398.94" stroke="#3a3a3a" stroke-width="1" />
<line x1="218.30" y1="336.41" x2="223.10" y2="336.41" stroke="#3a3a3a" stroke-width="1" />
<line x1="218.30" y1="398.94" x2="223.10" y2="398.94" stroke="#3a3a3a" stroke-width="1" />
<text x="220.70" y="335.41" font-size="8" font-weight="bold" text-anchor="middle" fill="#333" style="stroke:none">**</text>
<rect x="236.80" y="438.55" width="8.30" height="74.65" fill="#ffffff" stroke="#666" stroke-width="1" />
<line x1="240.95" y1="426.74" x2="240.95" y2="450.28" stroke="#444" stroke-width="1" />
<line x1="238.55" y1="426.74" x2="243.35" y2="426.74" stroke="#444" stroke-width="1" />
<line x1="238.55" y1="450.28" x2="243.35" y2="450.28" stroke="#444" stroke-width="1" />
<rect x="249.25" y="433.68" width="8.30" height="79.52" fill="#e8e8e8" stroke="#888" stroke-width="1" />
<line x1="253.40" y1="419.79" x2="253.40" y2="444.49" stroke="#555" stroke-width="1" />
<line x1="251.00" y1="419.79" x2="255.80" y2="419.79" stroke="#555" stroke-width="1" />
<line x1="251.00" y1="444.49" x2="255.80" y2="444.49" stroke="#555" stroke-width="1" />
<rect x="261.70" y="416.70" width="8.30" height="96.50" fill="#7d7d7d" stroke="#444" stroke-width="1" />
<line x1="265.85" y1="397.40" x2="265.85" y2="432.14" stroke="#4a4a4a" stroke-width="1" />
<line x1="263.45" y1="397.40" x2="268.25" y2="397.40" stroke="#4a4a4a" stroke-width="1" />
<line x1="263.45" y1="432.14" x2="268.25" y2="432.14" stroke="#4a4a4a" stroke-width="1" />
<text x="265.85" y="396.40" font-size="8" font-weight="bold" text-anchor="middle" fill="#333" style="stroke:none">**</text>
<rect x="274.15" y="408.98" width="8.30" height="104.22" fill="#999999" stroke="#555" stroke-width="1" />
<line x1="278.30" y1="392.77" x2="278.30" y2="425.19" stroke="#444" stroke-width="1" />
<line x1="275.90" y1="392.77" x2="280.70" y2="392.77" stroke="#444" stroke-width="1" />
<line x1="275.90" y1="425.19" x2="280.70" y2="425.19" stroke="#444" stroke-width="1" />
<text x="278.30" y="391.77" font-size="8" font-weight="bold" text-anchor="middle" fill="#333" style="stroke:none">**</text>
<rect x="286.60" y="408.21" width="8.30" height="104.99" fill="#aaaaaa" stroke="#777" stroke-width="1" />
<line x1="290.75" y1="393.54" x2="290.75" y2="421.33" stroke="#666" stroke-width="1" />
<line x1="288.35" y1="393.54" x2="293.15" y2="393.54" stroke="#666" stroke-width="1" />
<line x1="288.35" y1="421.33" x2="293.15" y2="421.33" stroke="#666" stroke-width="1" />
<text x="290.75" y="392.54" font-size="8" font-weight="bold" text-anchor="middle" fill="#333" style="stroke:none">**</text>
<rect x="299.05" y="360.34" width="8.30" height="152.86" fill="#575757" stroke="#2a2a2a" stroke-width="1" />
<line x1="303.20" y1="335.64" x2="303.20" y2="378.87" stroke="#3a3a3a" stroke-width="1" />
<line x1="300.80" y1="335.64" x2="305.60" y2="335.64" stroke="#3a3a3a" stroke-width="1" />
<line x1="300.80" y1="378.87" x2="305.60" y2="378.87" stroke="#3a3a3a" stroke-width="1" />
<text x="303.20" y="334.64" font-size="8" font-weight="bold" text-anchor="middle" fill="#333" style="stroke:none">**</text>
<rect x="319.30" y="476.92" width="8.30" height="36.28" fill="#ffffff" stroke="#666" stroke-width="1" />
<line x1="323.45" y1="468.42" x2="323.45" y2="483.86" stroke="#444" stroke-width="1" />
<line x1="321.05" y1="468.42" x2="325.85" y2="468.42" stroke="#444" stroke-width="1" />
<line x1="321.05" y1="483.86" x2="325.85" y2="483.86" stroke="#444" stroke-width="1" />
<text x="323.45" y="467.42" font-size="8" font-weight="bold" text-anchor="middle" fill="#333" style="stroke:none">**</text>
<rect x="331.75" y="473.83" width="8.30" height="39.37" fill="#e8e8e8" stroke="#888" stroke-width="1" />
<line x1="335.90" y1="462.25" x2="335.90" y2="481.93" stroke="#555" stroke-width="1" />
<line x1="333.50" y1="462.25" x2="338.30" y2="462.25" stroke="#555" stroke-width="1" />
<line x1="333.50" y1="481.93" x2="338.30" y2="481.93" stroke="#555" stroke-width="1" />
<text x="335.90" y="461.25" font-size="8" font-weight="bold" text-anchor="middle" fill="#333" style="stroke:none">**</text>
<rect x="344.20" y="454.53" width="8.30" height="58.67" fill="#7d7d7d" stroke="#444" stroke-width="1" />
<line x1="348.35" y1="436.77" x2="348.35" y2="465.34" stroke="#4a4a4a" stroke-width="1" />
<line x1="345.95" y1="436.77" x2="350.75" y2="436.77" stroke="#4a4a4a" stroke-width="1" />
<line x1="345.95" y1="465.34" x2="350.75" y2="465.34" stroke="#4a4a4a" stroke-width="1" />
<text x="348.35" y="435.77" font-size="8" font-weight="bold" text-anchor="middle" fill="#333" style="stroke:none">**</text>
<rect x="356.65" y="452.98" width="8.30" height="60.22" fill="#999999" stroke="#555" stroke-width="1" />
<line x1="360.80" y1="432.91" x2="360.80" y2="467.65" stroke="#444" stroke-width="1" />
<line x1="358.40" y1="432.91" x2="363.20" y2="432.91" stroke="#444" stroke-width="1" />
<line x1="358.40" y1="467.65" x2="363.20" y2="467.65" stroke="#444" stroke-width="1" />
<text x="360.80" y="431.91" font-size="8" font-weight="bold" text-anchor="middle" fill="#333" style="stroke:none">*</text>
<rect x="369.10" y="455.30" width="8.30" height="57.90" fill="#aaaaaa" stroke="#777" stroke-width="1" />
<line x1="373.25" y1="436.77" x2="373.25" y2="470.28" stroke="#666" stroke-width="1" />
<line x1="370.85" y1="436.77" x2="375.65" y2="436.77" stroke="#666" stroke-width="1" />
<line x1="370.85" y1="470.28" x2="375.65" y2="470.28" stroke="#666" stroke-width="1" />
<text x="373.25" y="435.77" font-size="8" font-weight="bold" text-anchor="middle" fill="#333" style="stroke:none">*</text>
<rect x="381.55" y="454.53" width="8.30" height="58.67" fill="#575757" stroke="#2a2a2a" stroke-width="1" />
<line x1="385.70" y1="441.40" x2="385.70" y2="466.11" stroke="#3a3a3a" stroke-width="1" />
<line x1="383.30" y1="441.40" x2="388.10" y2="441.40" stroke="#3a3a3a" stroke-width="1" />
<line x1="383.30" y1="466.11" x2="388.10" y2="466.11" stroke="#3a3a3a" stroke-width="1" />
<text x="385.70" y="440.40" font-size="8" font-weight="bold" text-anchor="middle" fill="#333" style="stroke:none">**</text>
<line x1="65.50" y1="320.00" x2="65.50" y2="513.80" stroke="#222" stroke-width="1.2" />
<line x1="64.90" y1="513.20" x2="394.00" y2="513.20" stroke="#222" stroke-width="1.2" />
<line x1="61.00" y1="513.20" x2="65.50" y2="513.20" stroke="#222" stroke-width="1" />
<text x="61.20" y="516.50" font-size="9" font-weight="bold" text-anchor="end" fill="#111" >0.0</text>
<line x1="61.00" y1="474.60" x2="65.50" y2="474.60" stroke="#222" stroke-width="1" />
<text x="61.20" y="477.90" font-size="9" font-weight="bold" text-anchor="end" fill="#111" >0.5</text>
<line x1="61.00" y1="436.00" x2="65.50" y2="436.00" stroke="#222" stroke-width="1" />
<text x="61.20" y="439.30" font-size="9" font-weight="bold" text-anchor="end" fill="#111" >1.0</text>
<line x1="61.00" y1="397.40" x2="65.50" y2="397.40" stroke="#222" stroke-width="1" />
<text x="61.20" y="400.70" font-size="9" font-weight="bold" text-anchor="end" fill="#111" >1.5</text>
<line x1="61.00" y1="358.80" x2="65.50" y2="358.80" stroke="#222" stroke-width="1" />
<text x="61.20" y="362.10" font-size="9" font-weight="bold" text-anchor="end" fill="#111" >2.0</text>
<line x1="61.00" y1="320.20" x2="65.50" y2="320.20" stroke="#222" stroke-width="1" />
<text x="61.20" y="323.50" font-size="9" font-weight="bold" text-anchor="end" fill="#111" >2.5</text>
<line x1="106.70" y1="513.20" x2="106.70" y2="516.00" stroke="#222" stroke-width="1" />
<text x="106.70" y="527.60" font-size="8.3" font-weight="bold" text-anchor="middle" fill="#111" >&#955; polyA</text>
<line x1="189.20" y1="513.20" x2="189.20" y2="516.00" stroke="#222" stroke-width="1" />
<text x="189.20" y="527.60" font-size="8.3" font-weight="bold" text-anchor="middle" fill="#111" >Exon 3-4</text>
<line x1="271.70" y1="513.20" x2="271.70" y2="516.00" stroke="#222" stroke-width="1" />
<text x="271.70" y="527.60" font-size="8.3" font-weight="bold" text-anchor="middle" fill="#111" >Exon 5-6</text>
<line x1="354.20" y1="513.20" x2="354.20" y2="516.00" stroke="#222" stroke-width="1" />
<text x="354.20" y="527.60" font-size="8.3" font-weight="bold" text-anchor="middle" fill="#111" >WT Exon 6</text>
<text transform="translate(28.00,497.30) rotate(-90)" font-size="8.35" font-weight="bold" fill="#111" text-anchor="start" >Fold change in TDP-43 mRNA expression</text>
<text transform="translate(37.30,424.60) rotate(-90)" font-size="8.05" font-weight="bold" fill="#111" text-anchor="start" >(vs wild type mice, n=4)</text>
<rect x="111.40" y="544.80" width="43.40" height="16.50" fill="#fff" stroke="#555" stroke-width="1" />
<text x="133.10" y="556.25" font-size="8.35" font-weight="bold" text-anchor="middle" fill="#111" >Group 1</text>
<rect x="112.30" y="569.20" width="12.20" height="5.00" fill="#fff" stroke="#666" stroke-width="1" />
<text x="130.90" y="574.70" font-size="8.2" font-weight="bold" text-anchor="start" fill="#111" >ZE13A/&#916;9</text>
<rect x="112.30" y="582.30" width="12.20" height="5.00" fill="#e8e8e8" stroke="#888" stroke-width="1" />
<text x="130.90" y="587.80" font-size="8.2" font-weight="bold" text-anchor="start" fill="#111" >ZE13B/&#916;18</text>
<rect x="200.40" y="544.60" width="42.10" height="17.20" fill="#fff" stroke="#555" stroke-width="1" />
<text x="221.45" y="556.40" font-size="8.35" font-weight="bold" text-anchor="middle" fill="#111" >Group 4</text>
<rect x="201.10" y="569.20" width="12.20" height="5.00" fill="#7d7d7d" stroke="#444" stroke-width="1" />
<text x="219.80" y="574.70" font-size="8.2" font-weight="bold" text-anchor="start" fill="#111" >ZE10/&#916;10</text>
<rect x="201.10" y="582.40" width="12.20" height="5.00" fill="#999" stroke="#555" stroke-width="1" />
<text x="219.80" y="587.90" font-size="8.2" font-weight="bold" text-anchor="start" fill="#111" >ZM39P/&#916;295</text>
<rect x="201.10" y="594.50" width="12.20" height="5.00" fill="#aaa" stroke="#777" stroke-width="1" />
<text x="219.80" y="600.00" font-size="8.2" font-weight="bold" text-anchor="start" fill="#111" >ZM87/&#916;2</text>
<rect x="289.30" y="543.20" width="42.50" height="17.60" fill="#fff" stroke="#555" stroke-width="1" />
<text x="310.55" y="555.20" font-size="8.35" font-weight="bold" text-anchor="middle" fill="#111" >Group 5</text>
<rect x="290.30" y="569.20" width="12.20" height="5.00" fill="#575757" stroke="#2a2a2a" stroke-width="1" />
<text x="308.50" y="574.70" font-size="8.2" font-weight="bold" text-anchor="start" fill="#111" >ZM39A/&#916;261</text>
<line x1="486.50" y1="474.60" x2="634.50" y2="474.60" stroke="#c4c4c4" stroke-width="1.1" />
<line x1="486.50" y1="436.00" x2="634.50" y2="436.00" stroke="#c4c4c4" stroke-width="1.1" />
<line x1="486.50" y1="397.40" x2="634.50" y2="397.40" stroke="#c4c4c4" stroke-width="1.1" />
<line x1="486.50" y1="358.80" x2="634.50" y2="358.80" stroke="#c4c4c4" stroke-width="1.1" />
<line x1="486.50" y1="320.20" x2="634.50" y2="320.20" stroke="#c4c4c4" stroke-width="1.1" />
<rect x="493.20" y="440.63" width="9.00" height="72.57" fill="#e0e0e0" stroke="#777" stroke-width="1" />
<line x1="497.70" y1="432.14" x2="497.70" y2="449.12" stroke="#444" stroke-width="1" />
<line x1="495.30" y1="432.14" x2="500.10" y2="432.14" stroke="#444" stroke-width="1" />
<line x1="495.30" y1="449.12" x2="500.10" y2="449.12" stroke="#444" stroke-width="1" />
<rect x="507.20" y="436.00" width="9.00" height="77.20" fill="#888888" stroke="#333" stroke-width="1" />
<line x1="511.70" y1="425.19" x2="511.70" y2="443.72" stroke="#333" stroke-width="1" />
<line x1="509.30" y1="425.19" x2="514.10" y2="425.19" stroke="#333" stroke-width="1" />
<line x1="509.30" y1="443.72" x2="514.10" y2="443.72" stroke="#333" stroke-width="1" />
<rect x="530.40" y="447.04" width="9.00" height="66.16" fill="#e0e0e0" stroke="#777" stroke-width="1" />
<line x1="534.90" y1="439.09" x2="534.90" y2="453.76" stroke="#444" stroke-width="1" />
<line x1="532.50" y1="439.09" x2="537.30" y2="439.09" stroke="#444" stroke-width="1" />
<line x1="532.50" y1="453.76" x2="537.30" y2="453.76" stroke="#444" stroke-width="1" />
<text x="534.90" y="438.09" font-size="8" font-weight="bold" text-anchor="middle" fill="#333" style="stroke:none">**</text>
<rect x="544.40" y="444.80" width="9.00" height="68.40" fill="#888888" stroke="#333" stroke-width="1" />
<line x1="548.90" y1="434.69" x2="548.90" y2="452.98" stroke="#333" stroke-width="1" />
<line x1="546.50" y1="434.69" x2="551.30" y2="434.69" stroke="#333" stroke-width="1" />
<line x1="546.50" y1="452.98" x2="551.30" y2="452.98" stroke="#333" stroke-width="1" />
<text x="548.90" y="433.69" font-size="8" font-weight="bold" text-anchor="middle" fill="#333" style="stroke:none">*</text>
<rect x="567.80" y="444.03" width="9.00" height="69.17" fill="#e0e0e0" stroke="#777" stroke-width="1" />
<line x1="572.30" y1="439.86" x2="572.30" y2="449.43" stroke="#444" stroke-width="1" />
<line x1="569.90" y1="439.86" x2="574.70" y2="439.86" stroke="#444" stroke-width="1" />
<line x1="569.90" y1="449.43" x2="574.70" y2="449.43" stroke="#444" stroke-width="1" />
<text x="572.30" y="438.86" font-size="8" font-weight="bold" text-anchor="middle" fill="#333" style="stroke:none">**</text>
<rect x="581.80" y="446.04" width="9.00" height="67.16" fill="#888888" stroke="#333" stroke-width="1" />
<line x1="586.30" y1="437.54" x2="586.30" y2="453.76" stroke="#333" stroke-width="1" />
<line x1="583.90" y1="437.54" x2="588.70" y2="437.54" stroke="#333" stroke-width="1" />
<line x1="583.90" y1="453.76" x2="588.70" y2="453.76" stroke="#333" stroke-width="1" />
<text x="586.30" y="436.54" font-size="8" font-weight="bold" text-anchor="middle" fill="#333" style="stroke:none">**</text>
<rect x="604.80" y="478.00" width="9.00" height="35.20" fill="#e0e0e0" stroke="#777" stroke-width="1" />
<line x1="609.30" y1="475.60" x2="609.30" y2="480.00" stroke="#444" stroke-width="1" />
<line x1="606.90" y1="475.60" x2="611.70" y2="475.60" stroke="#444" stroke-width="1" />
<line x1="606.90" y1="480.00" x2="611.70" y2="480.00" stroke="#444" stroke-width="1" />
<text x="609.30" y="474.60" font-size="8" font-weight="bold" text-anchor="middle" fill="#333" style="stroke:none">**</text>
<text x="623.30" y="510.50" font-size="8" font-weight="bold" text-anchor="middle" fill="#333" style="stroke:none">**</text>
<line x1="486.50" y1="320.00" x2="486.50" y2="513.80" stroke="#222" stroke-width="1.2" />
<line x1="485.90" y1="513.20" x2="634.50" y2="513.20" stroke="#222" stroke-width="1.2" />
<line x1="482.00" y1="513.20" x2="486.50" y2="513.20" stroke="#222" stroke-width="1" />
<text x="483.00" y="516.50" font-size="9" font-weight="bold" text-anchor="end" fill="#111" >0.0</text>
<line x1="482.00" y1="474.60" x2="486.50" y2="474.60" stroke="#222" stroke-width="1" />
<text x="483.00" y="477.90" font-size="9" font-weight="bold" text-anchor="end" fill="#111" >0.5</text>
<line x1="482.00" y1="436.00" x2="486.50" y2="436.00" stroke="#222" stroke-width="1" />
<text x="483.00" y="439.30" font-size="9" font-weight="bold" text-anchor="end" fill="#111" >1.0</text>
<line x1="482.00" y1="397.40" x2="486.50" y2="397.40" stroke="#222" stroke-width="1" />
<text x="483.00" y="400.70" font-size="9" font-weight="bold" text-anchor="end" fill="#111" >1.5</text>
<line x1="482.00" y1="358.80" x2="486.50" y2="358.80" stroke="#222" stroke-width="1" />
<text x="483.00" y="362.10" font-size="9" font-weight="bold" text-anchor="end" fill="#111" >2.0</text>
<line x1="482.00" y1="320.20" x2="486.50" y2="320.20" stroke="#222" stroke-width="1" />
<text x="483.00" y="323.50" font-size="9" font-weight="bold" text-anchor="end" fill="#111" >2.5</text>
<line x1="505.00" y1="513.20" x2="505.00" y2="516.00" stroke="#222" stroke-width="1" />
<text transform="translate(506.20,522.50) rotate(-45)" font-size="8.5" font-weight="bold" fill="#111" text-anchor="end" >&#955; polyA</text>
<line x1="542.20" y1="513.20" x2="542.20" y2="516.00" stroke="#222" stroke-width="1" />
<text transform="translate(543.40,522.50) rotate(-45)" font-size="8.5" font-weight="bold" fill="#111" text-anchor="end" >Exon 3-4</text>
<line x1="579.60" y1="513.20" x2="579.60" y2="516.00" stroke="#222" stroke-width="1" />
<text transform="translate(580.80,522.50) rotate(-45)" font-size="8.5" font-weight="bold" fill="#111" text-anchor="end" >Exon 5-6</text>
<line x1="616.60" y1="513.20" x2="616.60" y2="516.00" stroke="#222" stroke-width="1" />
<text transform="translate(617.80,522.50) rotate(-45)" font-size="8.5" font-weight="bold" fill="#111" text-anchor="end" >WT Exon 6</text>
<text transform="translate(449.20,497.00) rotate(-90)" font-size="8.35" font-weight="bold" fill="#111" text-anchor="start" >Fold change in TDP-43 mRNA expression</text>
<text transform="translate(458.60,424.50) rotate(-90)" font-size="8.05" font-weight="bold" fill="#111" text-anchor="start" >(vs wild type mice, n=4)</text>
<rect x="486.40" y="567.40" width="42.20" height="17.60" fill="#fff" stroke="#555" stroke-width="1" />
<text x="507.50" y="580.10" font-size="8.35" font-weight="bold" text-anchor="middle" fill="#111" >Group 3</text>
<rect x="539.00" y="567.90" width="12.20" height="5.00" fill="#e0e0e0" stroke="#777" stroke-width="1" />
<text x="557.70" y="573.40" font-size="8.2" font-weight="bold" text-anchor="start" fill="#111" >CRY9B/&#916;29 Hetero</text>
<rect x="539.00" y="580.70" width="12.20" height="5.00" fill="#888" stroke="#333" stroke-width="1" />
<text x="557.70" y="586.20" font-size="8.2" font-weight="bold" text-anchor="start" fill="#111" >CRY9B/&#916;29 Homo</text>
</svg></body></html>
